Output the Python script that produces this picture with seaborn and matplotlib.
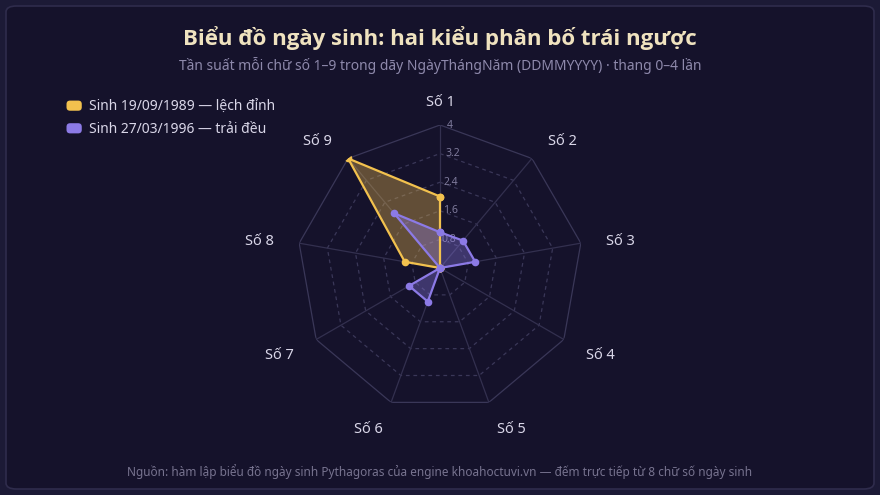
import numpy as np
import pandas as pd
import matplotlib
matplotlib.use("Agg")
import matplotlib.pyplot as plt
import seaborn as sns
from matplotlib.patches import FancyBboxPatch, Patch
from matplotlib.legend_handler import HandlerPatch

categories = ["Số 1", "Số 2", "Số 3", "Số 4", "Số 5", "Số 6", "Số 7", "Số 8", "Số 9"]
series_a_name = "Sinh 19/09/1989 — lệch đỉnh"
series_a = [2, 0, 0, 0, 0, 0, 0, 1, 4]
series_b_name = "Sinh 27/03/1996 — trải đều"
series_b = [1, 1, 1, 0, 0, 1, 1, 0, 2]
ring_ticks = [0.8, 1.6, 2.4, 3.2, 4]
ring_labels = ["0.8", "1.6", "2.4", "3.2", "4"]

sns.set_theme(style="dark")
plt.rcParams['font.family'] = ['Noto Sans', 'DejaVu Sans']

BG = "#15122b"
OUTER = "#1c1a36"
GRID = "#3a3758"
YEL = "#f2c14e"
PUR = "#8c7ae6"

fig = plt.figure(figsize=(8.8, 4.95), dpi=100, facecolor=OUTER)
card = FancyBboxPatch((6 / 880, 6 / 495), 868 / 880, 483 / 495,
                      boxstyle="round,pad=0,rounding_size=0.012",
                      transform=fig.transFigure, facecolor=BG,
                      edgecolor="#2f2c4c", linewidth=1.2, zorder=-10)
fig.patches.append(card)

# polar axes: center (440,268), radius 143 px
R = 143
cx, cy = 440, 268
ax = fig.add_axes([(cx - R) / 880, (495 - cy - R) / 495, 2 * R / 880, 2 * R / 495],
                  projection="polar")
ax.set_zorder(2)
ax.patch.set_visible(False)
ax.set_theta_offset(np.pi / 2)
ax.set_theta_direction(-1)
ax.set_ylim(0, 4)
ax.grid(False)
ax.spines["polar"].set_visible(False)
ax.set_xticks([])
ax.set_yticks([])

n = len(categories)
angles = np.arange(n) * 2 * np.pi / n
closed = np.append(angles, angles[0])

# grid polygons
for r in ring_ticks:
    ls = "-" if r == ring_ticks[-1] else (0, (3, 3))
    ax.plot(closed, [r] * (n + 1), color=GRID, lw=0.9, ls=ls, zorder=1)
for a in angles:
    ax.plot([a, a], [0, 4], color="#33304f", lw=0.9, zorder=1)
for r, lab in zip(ring_ticks, ring_labels):
    ax.text(0.045, r, lab, color="#7f7b9c", fontsize=7.5, ha="left", va="center", zorder=2)

# category labels: anchored 15px outside the outer ring, pushed sideways like a radar name
for i, c in enumerate(categories):
    s, co = np.sin(angles[i]), np.cos(angles[i])
    sgn = 0 if abs(s) < 0.05 else np.sign(s)
    dx = sgn * (14 + 11 * abs(s))
    dy = co * 11 - 3
    ax.annotate(c, xy=(angles[i], 158 / R * 4), xytext=(dx, dy), textcoords="offset pixels",
                color="#d9d6e8", fontsize=10.5, ha="center", va="center",
                annotation_clip=False)

rows = []
for name, vals in [(series_a_name, series_a), (series_b_name, series_b)]:
    v = list(vals) + [vals[0]]
    for k, (t, r) in enumerate(zip(closed, v)):
        rows.append({"series": name, "theta": t, "r": r, "order": k})
df = pd.DataFrame(rows)

palette = {series_a_name: YEL, series_b_name: PUR}
for name in [series_a_name, series_b_name]:
    sub = df[df.series == name]
    ax.fill(sub.theta, sub.r, color=palette[name], alpha=0.35, zorder=3, lw=0)
sns.lineplot(data=df, x="theta", y="r", hue="series", units="series", estimator=None,
             sort=False, palette=palette, marker="o", markersize=5.5,
             markeredgewidth=0, linewidth=1.6, ax=ax, legend=False, zorder=4)
ax.set_xlabel("")
ax.set_ylabel("")
ax.set_ylim(0, 4)


class RoundHandler(HandlerPatch):
    def create_artists(self, legend, orig_handle, xdescent, ydescent, width, height,
                       fontsize, trans):
        p = FancyBboxPatch((-xdescent, -ydescent), width, height,
                           boxstyle="round,pad=0,rounding_size=%f" % (height * 0.35),
                           facecolor=orig_handle.get_facecolor(), edgecolor="none",
                           transform=trans)
        return [p]


handles = [Patch(facecolor=YEL, edgecolor="none", label=series_a_name),
           Patch(facecolor=PUR, edgecolor="none", label=series_b_name)]
leg = fig.legend(handles=handles, loc="upper left", bbox_to_anchor=(54 / 880, 1 - 87 / 495),
                 frameon=False, fontsize=10, labelcolor="#d9d6e8", handlelength=1.1,
                 handleheight=0.75, handletextpad=0.5, labelspacing=0.55,
                 handler_map={Patch: RoundHandler()})

fig.text(0.5, 1 - 38 / 495, "Biểu đồ ngày sinh: hai kiểu phân bố trái ngược",
         ha="center", va="center", fontsize=16, fontweight="bold", color="#efe2bf",
         family=["Open Sans", "DejaVu Sans"])
fig.text(0.5, 1 - 65 / 495, "Tần suất mỗi chữ số 1–9 trong dãy NgàyThángNăm (DDMMYYYY) · thang 0–4 lần",
         ha="center", va="center", fontsize=10, color="#8e89ab")
fig.text(0.5, 1 - 472 / 495,
         "Nguồn: hàm lập biểu đồ ngày sinh Pythagoras của engine khoahoctuvi.vn — đếm trực tiếp từ 8 chữ số ngày sinh",
         ha="center", va="center", fontsize=8.5, color="#77738f")

fig.savefig("out.png", dpi=100, facecolor=OUTER)
